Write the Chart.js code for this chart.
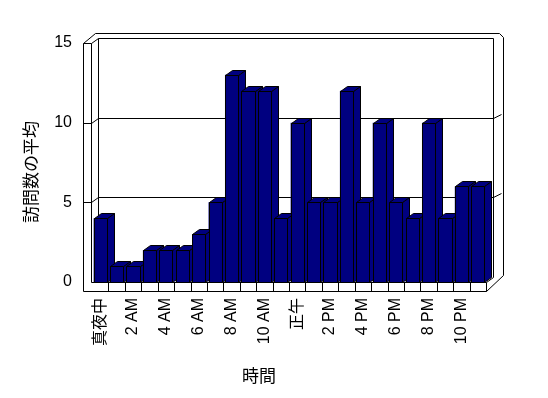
<!DOCTYPE html>
<html lang="ja">
<head>
  <meta charset="UTF-8">
  <title>訪問数の平均</title>
  <script src="https://cdn.jsdelivr.net/npm/chart.js"></script>
  <style>
    html, body { margin: 0; padding: 0; background: #fff; }
    #wrap { width: 548px; height: 398px; }
  </style>
</head>
<body>
  <div id="wrap"><canvas id="visitsChart"></canvas></div>
  <script>
    const hours = ['真夜中', '1 AM', '2 AM', '3 AM', '4 AM', '5 AM', '6 AM', '7 AM', '8 AM', '9 AM', '10 AM', '11 AM',
                   '正午', '1 PM', '2 PM', '3 PM', '4 PM', '5 PM', '6 PM', '7 PM', '8 PM', '9 PM', '10 PM', '11 PM'];
    const visits = [4, 1, 1, 2, 2, 2, 3, 5, 13, 12, 12, 4, 10, 5, 5, 12, 5, 10, 5, 4, 10, 4, 6, 6];
    const yTicks = [0, 5, 10, 15];
    const xTitle = '時間';
    const yTitle = '訪問数の平均';

    const FONT = "'Liberation Sans', 'Noto Sans CJK JP', sans-serif";
    const NAVY = '#000080';
    const DX = 7, DY = 5;       // depth offset of the 3D box
    const WALL = 8, FLOOR = 9;  // wall / floor thickness

    function line(ctx, pts) {
      ctx.beginPath();
      ctx.moveTo(pts[0][0], pts[0][1]);
      for (let i = 1; i < pts.length; i++) ctx.lineTo(pts[i][0], pts[i][1]);
      ctx.stroke();
    }

    // walls, floor and back-wall gridlines
    const box3d = {
      id: 'box3d',
      beforeDatasetsDraw(chart) {
        const ctx = chart.ctx, a = chart.chartArea, y = chart.scales.y;
        const L = Math.round(a.left) - 0.5, R = Math.round(a.right) + 0.5;
        const T = Math.round(y.getPixelForValue(yTicks[yTicks.length - 1])) + 0.5;
        const B = Math.round(y.getPixelForValue(0)) + 0.5;
        const oL = L - WALL;
        ctx.save();
        ctx.strokeStyle = '#000';
        ctx.lineWidth = 1;
        // left wall
        line(ctx, [[oL, B + FLOOR], [oL, T], [L, T], [L, B]]);
        line(ctx, [[oL, T], [oL + 12, T - 10], [R + DX + 6, T - 10], [R + DX + 10, T - 6], [R + DX + 10, B - DY - 2]]);
        line(ctx, [[L, T], [L + DX, T - DY], [R + DX, T - DY], [R + DX, B - DY]]);
        line(ctx, [[L + DX, T - DY], [L + DX, B - DY]]);
        // gridlines on left and back walls
        yTicks.slice(1, -1).forEach(v => {
          const gy = Math.round(y.getPixelForValue(v)) + 0.5;
          line(ctx, [[oL, gy], [L, gy], [L + DX, gy - DY], [R + DX, gy - DY], [R + DX + 8, gy - DY - 4]]);
        });
        // floor
        line(ctx, [[L, B], [R, B], [R, B + FLOOR], [oL, B + FLOOR]]);
        line(ctx, [[R, B], [R + DX, B - DY]]);
        line(ctx, [[R, B + FLOOR], [R + DX + 10, B - DY - 2]]);
        const x = chart.scales.x;
        for (let i = 1; i < hours.length; i++) {
          const gx = Math.round((x.getPixelForTick(i - 1) + x.getPixelForTick(i)) / 2) + 0.5;
          line(ctx, [[gx, B], [gx, B + FLOOR]]);
        }
        ctx.restore();
      },
      afterDatasetsDraw(chart) {
        const ctx = chart.ctx;
        ctx.save();
        ctx.strokeStyle = '#000';
        ctx.fillStyle = NAVY;
        ctx.lineWidth = 1;
        chart.getDatasetMeta(0).data.forEach(bar => {
          const p = bar.getProps(['x', 'y', 'base', 'width'], true);
          const l = Math.round(p.x - p.width / 2) + 0.5, r = Math.round(p.x + p.width / 2) + 0.5;
          const t = Math.round(p.y) + 0.5, b = Math.round(p.base) + 0.5;
          const faces = [
            [[r, t], [r + DX, t - DY], [r + DX, b - DY], [r, b]],
            [[l, t], [l + DX, t - DY], [r + DX, t - DY], [r, t]],
            [[l, t], [r, t], [r, b], [l, b]]
          ];
          faces.forEach(f => {
            ctx.beginPath();
            ctx.moveTo(f[0][0], f[0][1]);
            f.slice(1).forEach(q => ctx.lineTo(q[0], q[1]));
            ctx.closePath();
            ctx.fill();
            ctx.stroke();
          });
        });
        ctx.restore();
      },
      afterDraw(chart) {
        const ctx = chart.ctx, a = chart.chartArea;
        ctx.save();
        ctx.fillStyle = '#000';
        ctx.font = '17px ' + FONT;
        ctx.textAlign = 'center';
        ctx.textBaseline = 'middle';
        ctx.fillText(xTitle, a.left + 167, 377);
        ctx.translate(32, a.top + 129);
        ctx.rotate(-Math.PI / 2);
        ctx.fillText(yTitle, 0, 0);
        ctx.restore();
      }
    };

    new Chart(document.getElementById('visitsChart'), {
      type: 'bar',
      data: {
        labels: hours,
        datasets: [{
          data: visits,
          backgroundColor: NAVY,
          borderColor: '#000',
          borderWidth: 0,
          barPercentage: 0.8,
          categoryPercentage: 1.0
        }]
      },
      options: {
        responsive: true,
        maintainAspectRatio: false,
        animation: false,
        layout: { padding: { left: 10, right: 62, top: 43, bottom: 0 } },
        plugins: { legend: { display: false }, tooltip: { enabled: false } },
        scales: {
          x: {
            grid: { display: false, drawTicks: false },
            border: { display: false },
            afterFit(s) { s.height = 116; },
            ticks: {
              autoSkip: false,
              minRotation: 90,
              maxRotation: 90,
              padding: 16,
              color: '#000',
              font: { family: FONT, size: 16 },
              callback: (v, i) => (i % 2 === 0 ? hours[i] : '')
            }
          },
          y: {
            min: 0,
            max: 15,
            grid: { display: false, drawTicks: false },
            border: { display: false },
            afterFit(s) { s.width = 82; },
            afterBuildTicks(s) { s.ticks = yTicks.map(v => ({ value: v })); },
            ticks: {
              padding: 20,
              color: '#000',
              font: { family: FONT, size: 16 }
            }
          }
        }
      },
      plugins: [box3d]
    });
  </script>
</body>
</html>
